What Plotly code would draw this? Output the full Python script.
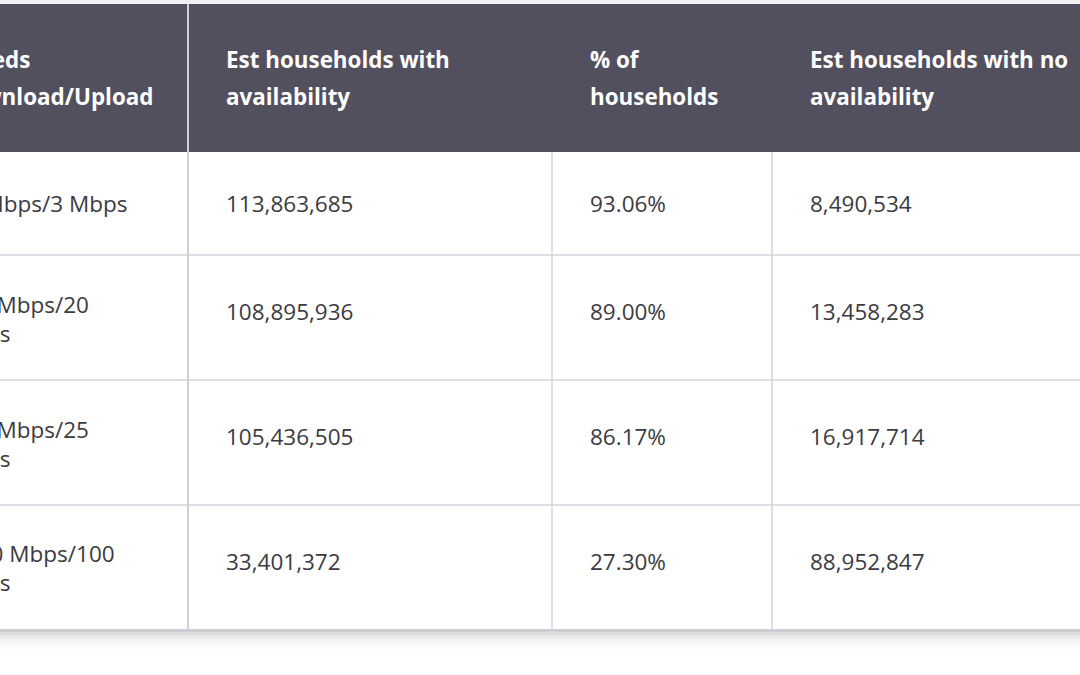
import plotly.graph_objects as go

# table content
headers = ["Speeds<br>Download/Upload", "Est households with<br>availability",
           "% of<br>households", "Est households with no<br>availability"]
speeds = ["25 Mbps/3 Mbps", "100 Mbps/20<br>Mbps", "100 Mbps/25<br>Mbps", "1000 Mbps/100<br>Mbps"]
est_with = ["113,863,685", "108,895,936", "105,436,505", "33,401,372"]
pct_households = ["93.06%", "89.00%", "86.17%", "27.30%"]
est_without = ["8,490,534", "13,458,283", "16,917,714", "88,952,847"]

W, H = 1080, 675
col_edges = [-86, 188, 552, 772, 1110]
row_edges = [4, 152, 255, 380, 505, 629]
pad = 38
head_bg = "#52505f"
grid = "#d3d6dd"
text_col = "#3b3b41"
font = "Open Sans"

columns = [speeds, est_with, pct_households, est_without]

fig = go.Figure()

shapes = []
# faint strip above the header
shapes.append(dict(type="rect", x0=-100, x1=W + 20, y0=-5, y1=row_edges[0],
                   fillcolor="#f1f1f2", line_width=0, layer="below"))
# drop shadow under the table
for i, op in enumerate([0.22, 0.15, 0.10, 0.06, 0.035, 0.02]):
    shapes.append(dict(type="rect", x0=-100, x1=W + 20, y0=row_edges[-1] - 1,
                       y1=row_edges[-1] + 3 + i * 3.5, fillcolor="#9a9ca3",
                       opacity=op, line_width=0, layer="below"))
# table body + header band
shapes.append(dict(type="rect", x0=col_edges[0], x1=col_edges[-1], y0=row_edges[0],
                   y1=row_edges[-1], fillcolor="white", line_width=0, layer="below"))
shapes.append(dict(type="rect", x0=col_edges[0], x1=col_edges[-1], y0=row_edges[0],
                   y1=row_edges[1], fillcolor=head_bg, line_width=0, layer="below"))
# grid lines
for y in row_edges[2:-1]:
    shapes.append(dict(type="line", x0=col_edges[0], x1=col_edges[-1], y0=y, y1=y,
                       line=dict(color=grid, width=1.5), layer="below"))
shapes.append(dict(type="line", x0=col_edges[1], x1=col_edges[1], y0=row_edges[0],
                   y1=row_edges[-1], line=dict(color="#cfd1d8", width=2), layer="below"))
for x in col_edges[2:-1]:
    shapes.append(dict(type="line", x0=x, x1=x, y0=row_edges[1], y1=row_edges[-1],
                       line=dict(color=grid, width=1.5), layer="below"))

# header text, one point per line so the line spacing can be matched
hx, hy, ht = [], [], []
for c, label in enumerate(headers):
    for k, line in enumerate(label.split("<br>")):
        hx.append(col_edges[c] + pad)
        hy.append(62 + k * 37)
        ht.append(line)
fig.add_trace(go.Scatter(x=hx, y=hy, text=ht, mode="text", textposition="middle right",
                         textfont=dict(family=font, size=22.4, color="white", weight="bold"),
                         hoverinfo="skip", cliponaxis=True))

# body text
bx, by, bt = [], [], []
for c, values in enumerate(columns):
    for r, v in enumerate(values):
        mid = (row_edges[r + 1] + row_edges[r + 2]) / 2
        if r == 0:
            y = mid + 3
        elif "<br>" in v:
            y = mid + 4
        else:
            y = mid - 3
        bx.append(col_edges[c] + pad)
        by.append(y)
        bt.append(v)
fig.add_trace(go.Scatter(x=bx, y=by, text=bt, mode="text", textposition="middle right",
                         textfont=dict(family=font, size=22.5, color=text_col),
                         hoverinfo="skip", cliponaxis=True))

fig.update_layout(
    width=W, height=H, margin=dict(l=0, r=0, t=0, b=0),
    paper_bgcolor="white", plot_bgcolor="white", showlegend=False,
    shapes=shapes,
    xaxis=dict(range=[0, W], visible=False, fixedrange=True),
    yaxis=dict(range=[H, 0], visible=False, fixedrange=True),
)

fig.write_html("out.html", config={"displayModeBar": False},
               post_script="document.body.style.margin='0';")
